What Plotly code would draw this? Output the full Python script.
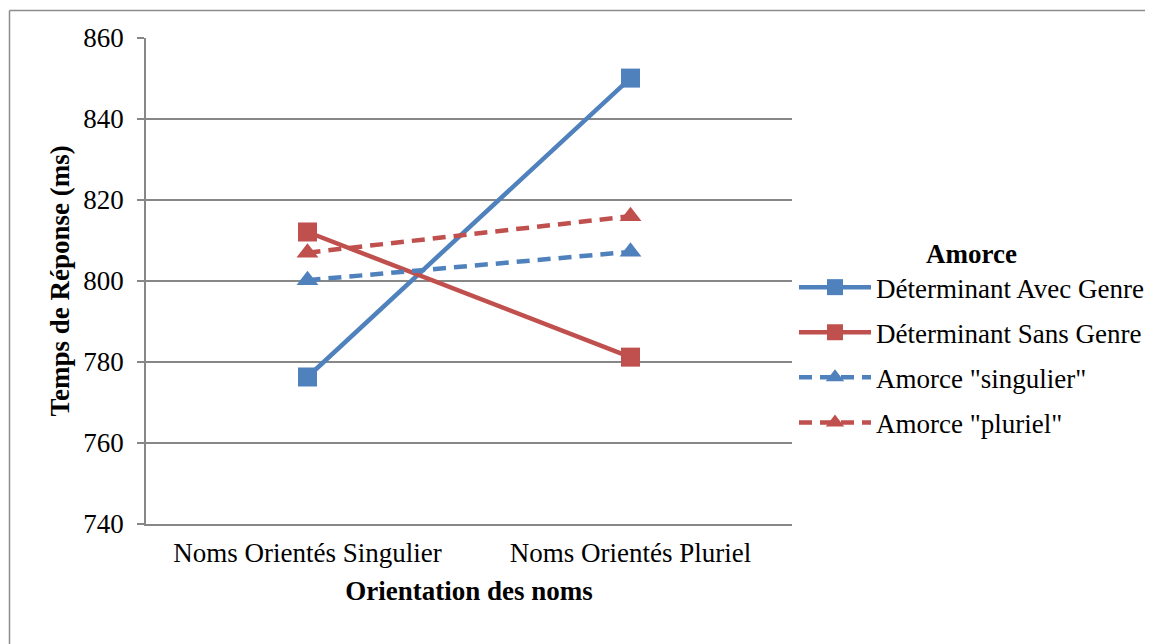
import plotly.graph_objects as go

categories = ["Noms Orientés Singulier", "Noms Orientés Pluriel"]
avec_genre = [776.3, 850.1]
sans_genre = [812.1, 781.2]
amorce_sing = [800.2, 807.2]
amorce_plur = [807.0, 816.0]

blue = "#4F81BD"
red = "#C0504D"
grid = "#878787"
font_family = "Liberation Serif, Times New Roman, serif"
FS = 27

fig = go.Figure()
fig.add_trace(go.Scatter(x=categories, y=avec_genre, name="Déterminant Avec Genre",
                         mode="lines+markers", legendgroup="a",
                         line=dict(color=blue, width=4.5),
                         marker=dict(symbol="square", size=19, color=blue)))
fig.add_trace(go.Scatter(x=categories, y=sans_genre, name="Déterminant Sans Genre",
                         mode="lines+markers", legendgroup="b",
                         line=dict(color=red, width=4.5),
                         marker=dict(symbol="square", size=19, color=red)))
fig.add_trace(go.Scatter(x=categories, y=amorce_sing, name='Amorce "singulier"',
                         mode="lines+markers", legendgroup="c",
                         line=dict(color=blue, width=4.5, dash="13px,8px"),
                         marker=dict(symbol="triangle-up", size=19, color=blue)))
fig.add_trace(go.Scatter(x=categories, y=amorce_plur, name='Amorce "pluriel"',
                         mode="lines+markers", legendgroup="d",
                         line=dict(color=red, width=4.5, dash="13px,8px"),
                         marker=dict(symbol="triangle-up", size=19, color=red)))

OFF = 8  # default page body margin
W, H = 1153 - OFF, 644 - OFF
# plot area in page pixels
PL, PR, PT, PB = 146, 792, 38, 524
L, R, T, B = PL - OFF, W - (PR - OFF), PT - OFF, H - (PB - OFF)
pw, ph = PR - PL, PB - PT

def px_x(p):
    return (p - PL) / pw

def px_y(p):
    return (PB - p) / ph

border = dict(color="#8C8C8C", width=1.5)

fig.update_layout(
    width=W, height=H,
    margin=dict(l=L, r=R, t=T, b=B, autoexpand=False),
    paper_bgcolor="white", plot_bgcolor="white",
    font=dict(family=font_family, size=FS, color="black"),
    showlegend=True,
    legend=dict(
        xref="container",
        x=(794 - OFF) / W, y=px_y(228), xanchor="left", yanchor="top",
        title=dict(text="<b>Amorce</b>", side="top center",
                   font=dict(family=font_family, size=FS)),
        font=dict(family=font_family, size=FS),
        traceorder="grouped", tracegroupgap=7,
        itemwidth=72,
        bgcolor="rgba(0,0,0,0)",
    ),
    xaxis=dict(
        type="category", range=[-0.5, 1.5],
        showgrid=False, showline=True, linecolor=grid, linewidth=1.5,
        ticks="", tickfont=dict(size=FS), ticklabelstandoff=4,
        title=dict(text="<b>Orientation des noms</b>", font=dict(size=FS), standoff=14),
    ),
    yaxis=dict(
        range=[740, 860], dtick=20, tick0=740,
        showgrid=True, gridcolor=grid, gridwidth=1.5,
        showline=True, linecolor=grid, linewidth=1.5,
        ticks="outside", ticklen=7, tickcolor=grid, tickwidth=1.5,
        tickfont=dict(size=FS), ticklabelstandoff=8,
        zeroline=False,
        title=dict(text="<b>Temps de Réponse (ms)</b>", font=dict(size=FS), standoff=6),
    ),
    shapes=[
        dict(type="line", xref="paper", yref="paper",
             x0=px_x(9.5), x1=px_x(1200), y0=px_y(10.5), y1=px_y(10.5), line=border, layer="below"),
        dict(type="line", xref="paper", yref="paper",
             x0=px_x(9.5), x1=px_x(9.5), y0=px_y(10.5), y1=px_y(700), line=border, layer="below"),
    ],
)

fig.write_html("out.html")
